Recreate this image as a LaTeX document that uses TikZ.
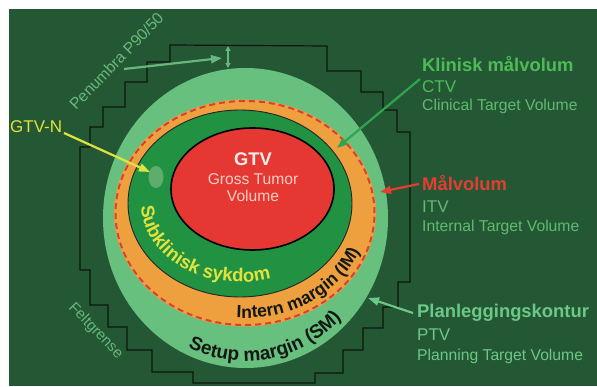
\documentclass[tikz,border=0pt]{standalone}
\usepackage{fontspec}
\setmainfont{Liberation Sans}
\usetikzlibrary{decorations.text,arrows.meta}
\definecolor{bg}{RGB}{36,88,52}
\definecolor{ptv}{RGB}{104,192,126}
\definecolor{itv}{RGB}{238,160,62}
\definecolor{ctv}{RGB}{32,146,66}
\definecolor{gtv}{RGB}{230,56,50}
\definecolor{dashred}{RGB}{222,62,52}
\definecolor{lblgreen}{RGB}{78,188,86}
\definecolor{lblgreen2}{RGB}{96,186,112}
\definecolor{ptvtext}{RGB}{108,200,134}
\definecolor{penum}{RGB}{104,184,124}
\definecolor{yel}{RGB}{226,226,62}
\definecolor{mred}{RGB}{228,62,50}
\definecolor{pinktext}{RGB}{250,205,195}
\definecolor{gtvwhite}{RGB}{248,238,236}
\definecolor{spot}{RGB}{96,172,108}
\definecolor{mblack}{RGB}{20,24,20}
\definecolor{arrgreen}{RGB}{48,164,78}
\definecolor{stair}{RGB}{12,22,14}
\begin{document}
\begin{tikzpicture}[x=1pt,y=1pt,
  lbl/.style={anchor=base west, inner sep=0pt, font=\fontsize{15.7}{16}\selectfont},
  head/.style={lbl, font=\bfseries\fontsize{18.4}{19}\selectfont},
  acr/.style={lbl, font=\fontsize{17}{18}\selectfont},
  arr/.style={line width=2.2pt, -{Triangle[length=11pt,width=8pt]}},
  center/.style={anchor=base, inner sep=0pt}
]
\fill[white] (0,0) rectangle (597,-387);
\useasboundingbox (0,0) rectangle (597,-387);
\fill[bg] (9,-9) rectangle (597,-386);

% field border (Feltgrense)
\draw[stair, line width=1.2pt] (170,-45) -- (327,-46) -- (327,-71) -- (361,-71) -- (361,-92) -- (383,-92) -- (383,-110) -- (397,-110) -- (397,-132) -- (410,-132) -- (410,-282) -- (398,-282) -- (398,-307) -- (383,-307) -- (383,-328) -- (363,-328) -- (363,-350) -- (343,-350) -- (343,-373) -- (315,-373) -- (315,-383) -- (193,-383) -- (193,-372) -- (152,-372) -- (152,-350) -- (127,-350) -- (127,-327) -- (108,-327) -- (108,-305) -- (90,-305) -- (90,-270) -- (80,-270) -- (80,-147) -- (90,-147) -- (90,-127) -- (103,-127) -- (103,-107) -- (125,-107) -- (125,-82) -- (147,-82) -- (147,-62) -- (170,-62) -- cycle;

% volumes
\fill[ptv] (245.5,-218) ellipse [x radius=142.5, y radius=150];
\fill[itv] (245,-213) ellipse [x radius=131, y radius=113.5];
\draw[dashred, line width=2pt, dash pattern=on 6pt off 4pt] (245,-213) ellipse [x radius=129.5, y radius=112];
\filldraw[fill=ctv, draw=black!85, line width=0.9pt] (240,-203.5) ellipse [x radius=112, y radius=93.5];
\filldraw[fill=gtv, draw=black, line width=1.6pt] (252.5,-189) ellipse [x radius=81.5, y radius=61];
\fill[spot] (156,-177) ellipse [x radius=7.5, y radius=11];

% texts in GTV
\node[center, text=gtvwhite, font=\bfseries\fontsize{18.3}{19}\selectfont] (gtvt) at (253,-166) {GTV};
\node[center, text=pinktext, font=\fontsize{15.6}{16}\selectfont] (gtv2) at (253,-184.5) {Gross Tumor};
\node[center, text=pinktext, font=\fontsize{15.6}{16}\selectfont] (gtv3) at (253,-202) {Volume};

% curved ring labels
\path[decorate, decoration={text along path, text={|\bfseries\fontsize{18.6}{18}\selectfont|Subklinisk sykdom}, text color=yel, text align={left indent=0pt}}]
  ([shift={(182:99 and 78.5)}]240,-203.5) arc[start angle=182, end angle=330, x radius=99, y radius=78.5];
\path[decorate, decoration={text along path, text={|\bfseries\fontsize{17.6}{17}\selectfont|Intern margin (IM)}, text color=mblack, text align={left indent=0pt}}]
  ([shift={(266:123 and 105)}]245,-213) arc[start angle=266, end angle=400, x radius=123, y radius=105];
\path[decorate, decoration={text along path, text={|\bfseries\fontsize{19}{18}\selectfont|Setup margin (SM)}, text color=mblack, text align={left indent=0pt}}]
  ([shift={(245:135 and 143)}]245,-218) arc[start angle=245, end angle=380, x radius=135, y radius=143];

% right labels
\node[head, text=lblgreen] (ctvh) at (422,-72) {Klinisk målvolum};
\node[acr, text=lblgreen] (ctva) at (422,-93) {CTV};
\node[lbl, text=lblgreen2] (ctvd) at (422,-110.5) {Clinical Target Volume};
\node[head, text=mred] (itvh) at (422,-191) {Målvolum};
\node[acr, text=lblgreen2] (itva) at (422,-213) {ITV};
\node[lbl, text=lblgreen2] (itvd) at (422,-232) {Internal Target Volume};
\node[head, text=ptvtext] (ptvh) at (417,-318) {Planleggingskontur};
\node[acr, text=ptvtext] (ptva) at (417,-340) {PTV};
\node[lbl, text=ptvtext] (ptvd) at (417,-360) {Planning Target Volume};

% left labels
\node[lbl, text=yel, font=\fontsize{17}{18}\selectfont] (gtvn) at (10,-133) {GTV-N};
\node[lbl, text=penum, font=\fontsize{15.8}{16}\selectfont, rotate=46] (pen) at (76,-111) {Penumbra P90/50};
\node[lbl, text=penum, font=\fontsize{15}{16}\selectfont, rotate=-46] (felt) at (68,-308) {Feltgrense};

% connector ends
\coordinate (penS) at (124,-69);
\coordinate (penT) at (222,-58);
\coordinate (dA) at (228,-46);
\coordinate (dB) at (228,-68);
\coordinate (gtvnS) at (64,-133);
\coordinate (gtvnT) at (150,-172);
\coordinate (ctvS) at (420,-79);
\coordinate (ctvT) at (337,-148);
\coordinate (itvS) at (419,-184);
\coordinate (itvT) at (380,-192);
\coordinate (ptvS) at (413,-313);
\coordinate (ptvT) at (368,-298);

\draw[arr, penum] (penS) -- (penT);
\draw[penum, line width=1.3pt, {Triangle[length=5pt,width=5pt]}-{Triangle[length=5pt,width=5pt]}] (dA) -- (dB);
\draw[arr, yel] (gtvnS) -- (gtvnT);
\draw[arr, arrgreen] (ctvS) -- (ctvT);
\draw[arr, mred] (itvS) -- (itvT);
\draw[arr, ptvtext] (ptvS) -- (ptvT);
\end{tikzpicture}
\end{document}
